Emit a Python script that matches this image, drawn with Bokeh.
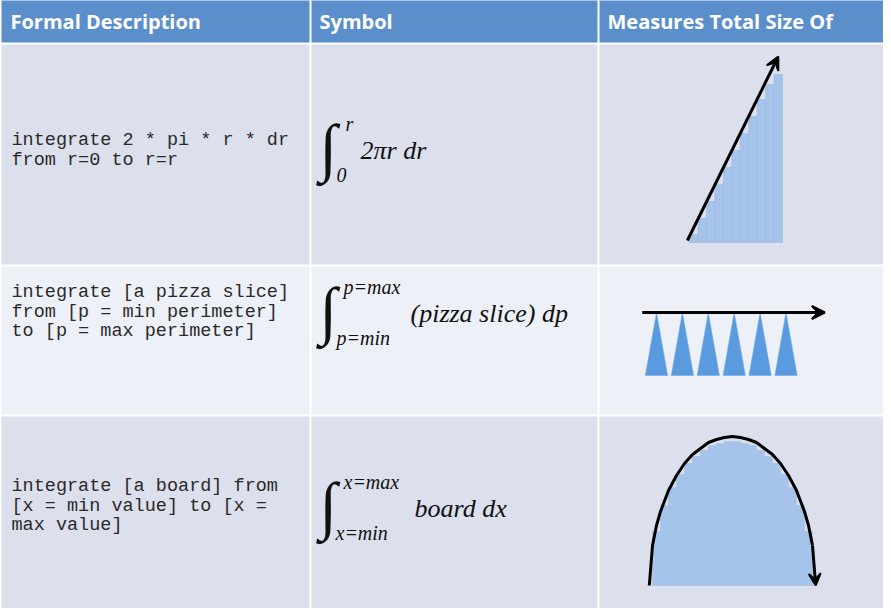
from bokeh.plotting import figure
from bokeh.models import Range1d, Arrow, VeeHead
from bokeh.embed import file_html
from bokeh.resources import INLINE
from bokeh.core.properties import value

# ---------------- table content ----------------
headers = ["Formal Description", "Symbol", "Measures Total Size Of"]
descriptions = [
    ["integrate 2 * pi * r * dr", "from r=0 to r=r"],
    ["integrate [a pizza slice]", "from [p = min perimeter]", "to [p = max perimeter]"],
    ["integrate [a board] from", "[x = min value] to [x =", "max value]"],
]
upper_limits = ["r", "p=max", "x=max"]
lower_limits = ["0", "p=min", "x=min"]
integrands = ["2\u03c0r dr", "(pizza slice) dp", "board dx"]

# ---------------- diagram values ----------------
ramp_heights = [8, 24, 41, 58, 75, 92, 109, 126, 143, 158, 168]
ramp_arrow = [(-0.25, 2), (10.5, 186)]
slice_count = 6
slice_arrow = [(-0.55, 1.0), (6.5, 1.0)]
board_heights = [54, 80, 98, 111, 122, 129, 135, 140, 142, 144,
                 144, 142, 140, 135, 129, 122, 111, 98, 80, 54]
arc_u = [-0.4, 0, 0.5, 1, 2, 3, 4, 5, 6, 7, 8, 9, 10, 11, 12, 13, 14, 15,
         16, 17, 18, 19, 19.5, 20.0]
arc_h = [0, 40, 60, 74, 95, 110, 122, 131, 137, 143, 146, 148, 149, 148, 146,
         143, 137, 131, 122, 110, 95, 74, 60, 40]
arc_end = (20.4, 0)

# ---------------- layout (page pixels) ----------------
W, H = 883, 608
X0, X1, Y0, Y1 = 8, 891, 8, 616
col_edges = [9, 318, 606, 891]
row_edges = [6, 51, 273, 423, 616]
header_color = "#5B8FCB"
row_colors = ["#DCE0EC", "#EDF0F6", "#DCE0EC"]

p = figure(width=W, height=H, output_backend="svg", toolbar_location=None,
           x_range=Range1d(X0, X1), y_range=Range1d(Y1, Y0),
           x_axis_location=None, y_axis_location=None, min_border=0,
           background_fill_color="white", border_fill_color="white")
p.outline_line_color = None
p.xgrid.visible = False
p.ygrid.visible = False


def extra_x(name, u0, u1, px0, px1):
    k = (u1 - u0) / (px1 - px0)
    p.extra_x_ranges[name] = Range1d(start=u0 + (X0 - px0) * k, end=u0 + (X1 - px0) * k)


def extra_y(name, v0, v1, py0, py1):
    k = (v1 - v0) / (py1 - py0)
    p.extra_y_ranges[name] = Range1d(start=v0 + (Y1 - py0) * k, end=v0 + (Y0 - py0) * k)


# cells
L, R, T, B, C = [], [], [], [], []
for r in range(4):
    for c in range(3):
        L.append(col_edges[c] + (1 if c > 0 else 0))
        R.append(col_edges[c + 1] - (1 if c < 2 else 0))
        T.append(row_edges[r] + (1 if r > 0 else 0))
        B.append(row_edges[r + 1] - (1 if r < 3 else 0))
        C.append(header_color if r == 0 else row_colors[r - 1])
p.quad(left=L, right=R, top=T, bottom=B, fill_color=C, line_color=None)

# header texts
hx = [col_edges[c] + 9 for c in range(3)]
p.text(x=hx, y=[29] * 3, text=headers, text_color="white",
       text_font=value("Open Sans"), text_font_style="bold",
       text_font_size=value("20px"), text_baseline="middle", text_align="left")

# descriptions
row_text_top = [148, 300, 494]
dx, dy, dt = [], [], []
for r, lines in enumerate(descriptions):
    for i, line in enumerate(lines):
        dx.append(19)
        dy.append(row_text_top[r] + 19.5 * i)
        dt.append(line)
p.text(x=dx, y=dy, text=dt, text_color="#2a2a2a",
       text_font=value("Liberation Mono"), text_font_size=value("18.5px"),
       text_baseline="middle", text_align="left")

# symbols
sym_center = [158, 321, 516]
sym_integrand_x = [368, 418, 422]
p.text(x=[327] * 3, y=[c - 3 for c in sym_center], text=["\u222b"] * 3, text_color="#111111",
       text_font=value("Liberation Serif"), text_font_size=value("64px"),
       text_baseline="middle", text_align="left")
p.text(x=[353, 351, 351], y=[c - 27 for c in sym_center], text=upper_limits,
       text_color="#111111", text_font=value("Liberation Serif"), text_font_style="italic",
       text_font_size=value("20px"), text_baseline="middle", text_align="left")
p.text(x=[344, 344, 343], y=[c + 24 for c in sym_center], text=lower_limits,
       text_color="#111111", text_font=value("Liberation Serif"), text_font_style="italic",
       text_font_size=value("20px"), text_baseline="middle", text_align="left")
p.text(x=sym_integrand_x, y=sym_center, text=integrands, text_color="#111111",
       text_font=value("Liberation Serif"), text_font_style="italic",
       text_font_size=value("26px"), text_baseline="middle", text_align="left")

# ---- row 1 diagram: ramp of bars under a rising arrow ----
extra_x("ramp_x", 0, len(ramp_heights), 697, 790)
extra_y("ramp_y", 0, 100, 250, 150)
p.vbar(x=[i + 0.5 for i in range(len(ramp_heights))], width=1, top=ramp_heights, bottom=0,
       fill_color="#A6C4EA", line_color="#96B8E2", line_width=0.6,
       x_range_name="ramp_x", y_range_name="ramp_y")
p.add_layout(Arrow(end=VeeHead(size=13, fill_color="black", line_color="black", line_width=2),
                   x_start=ramp_arrow[0][0], y_start=ramp_arrow[0][1],
                   x_end=ramp_arrow[1][0], y_end=ramp_arrow[1][1],
                   line_width=3, line_color="black",
                   x_range_name="ramp_x", y_range_name="ramp_y"))

# ---- row 2 diagram: pizza slices under a horizontal arrow ----
extra_x("slice_x", 0, slice_count - 1, 664, 793.5)
extra_y("slice_y", 0, 1, 383, 320)
xs = [[i - 0.43, i, i + 0.43] for i in range(slice_count)]
ys = [[0, 1, 0] for _ in range(slice_count)]
p.patches(xs=xs, ys=ys, fill_color="#5A9BE0", line_color="#6AA5E4", line_width=0.5,
          x_range_name="slice_x", y_range_name="slice_y")
p.add_layout(Arrow(end=VeeHead(size=13, fill_color="black", line_color="black", line_width=2),
                   x_start=slice_arrow[0][0], y_start=slice_arrow[0][1],
                   x_end=slice_arrow[1][0], y_end=slice_arrow[1][1],
                   line_width=3, line_color="black",
                   x_range_name="slice_x", y_range_name="slice_y"))

# ---- row 3 diagram: boards under an arc ----
extra_x("board_x", 0, len(board_heights), 660, 820)
extra_y("board_y", 0, 100, 593, 493)
p.vbar(x=[i + 0.5 for i in range(len(board_heights))], width=1, top=board_heights, bottom=0,
       fill_color="#A6C4EA", line_color="#A0C0E8", line_width=0.6,
       x_range_name="board_x", y_range_name="board_y")
p.line(x=arc_u, y=arc_h, line_color="black", line_width=3,
       x_range_name="board_x", y_range_name="board_y")
p.add_layout(Arrow(end=VeeHead(size=12, fill_color="black", line_color="black", line_width=2),
                   x_start=arc_u[-1], y_start=arc_h[-1],
                   x_end=arc_end[0], y_end=arc_end[1],
                   line_width=3, line_color="black",
                   x_range_name="board_x", y_range_name="board_y"))

open("out.html", "w").write(file_html(p, INLINE))
